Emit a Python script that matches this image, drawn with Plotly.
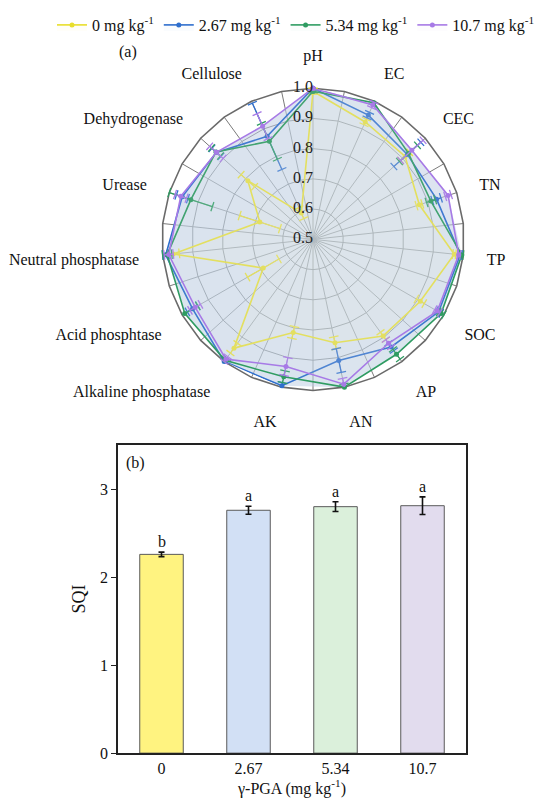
import plotly.graph_objects as go

# ---------------- data ----------------
axes_names = ["pH", "EC", "CEC", "TN", "TP", "SOC", "AP", "AN", "AK",
              "Alkaline phosphatase", "Acid phosphtase", "Neutral phosphatase",
              "Urease", "Dehydrogenase", "Cellulose"]

series_names = ["0 mg kg<sup>-1</sup>", "2.67 mg kg<sup>-1</sup>",
                "5.34 mg kg<sup>-1</sup>", "10.7 mg kg<sup>-1</sup>"]

v_0 = [0.99, 0.925, 0.91, 0.87, 0.97, 0.91, 0.895, 0.85, 0.815, 0.945, 0.69, 0.965, 0.685, 0.79, 0.595]
e_0 = [0.01, 0.01, 0.02, 0.01, 0.005, 0.015, 0.015, 0.02, 0.02, 0.02, 0.06, 0.02, 0.07, 0.03, 0.02]

v_267 = [1.0, 0.95, 0.92, 0.93, 0.99, 0.98, 0.94, 0.91, 0.995, 1.0, 0.96, 0.99, 0.955, 0.93, 0.873]
e_267 = [0.005, 0.01, 0.06, 0.015, 0.005, 0.01, 0.015, 0.04, 0.01, 0.01, 0.02, 0.01, 0.02, 0.02, 0.12]

v_534 = [0.99, 0.995, 0.925, 0.91, 0.995, 0.99, 0.97, 1.0, 0.965, 0.995, 0.99, 0.985, 0.925, 0.932, 0.855]
e_534 = [0.005, 0.01, 0.04, 0.015, 0.005, 0.01, 0.02, 0.01, 0.02, 0.01, 0.05, 0.015, 0.075, 0.02, 0.065]

v_107 = [1.0, 0.987, 0.94, 0.97, 0.985, 0.975, 0.925, 0.99, 0.93, 0.99, 0.95, 0.98, 0.96, 0.93, 0.91]
e_107 = [0.005, 0.01, 0.05, 0.01, 0.005, 0.01, 0.015, 0.02, 0.03, 0.01, 0.02, 0.015, 0.02, 0.03, 0.045]

radial_ticks = [0.5, 0.6, 0.7, 0.8, 0.9, 1.0]

bar_labels = ["0", "2.67", "5.34", "10.7"]
sqi = [2.258, 2.759, 2.80, 2.811]
sqi_err = [0.025, 0.045, 0.055, 0.10]
sig_letters = ["b", "a", "a", "a"]

# ---------------- styles / layout helpers ----------------
FONT = "Liberation Serif"
line_colors = ["#e8de2c", "#2f6fcd", "#2f9c62", "#a77ae6"]
fill_tints = ["rgba(255,248,190,0.10)", "rgba(210,226,250,0.10)",
              "rgba(210,240,222,0.10)", "rgba(236,222,250,0.10)"]
bar_colors = ["#fff380", "#d2e0f5", "#dbf0db", "#e2dcee"]

# the page adds an 8 px body margin; size the figure so it fits the window
OFF = 8
W, H = 550 - OFF, 806 - OFF


def fx(px):
    return (px - OFF) / W


def fy(py):
    return 1 - (py - OFF) / H


values = [v_0, v_267, v_534, v_107]
errors = [e_0, e_267, e_534, e_107]

R_MIN, R_MAX = radial_ticks[0], radial_ticks[-1]
# tiny pad so the centre label (r = 0.5) is not dropped as out of range
R_PAD = 1e-4

# background web: 30 spokes (the 15 attributes plus one between each)
web_cats = []
for i in range(len(axes_names)):
    web_cats += ["w%da" % i, "w%db" % i]


def bearing(name):
    return 360.0 * axes_names.index(name) / len(axes_names)


fig = go.Figure()

fig.add_trace(go.Scatterpolar(r=[None], theta=[web_cats[0]], subplot="polar",
                              showlegend=False, hoverinfo="skip"))

union_r = [max(v[i] for v in values) for i in range(len(axes_names))]
fig.add_trace(go.Scatterpolar(
    r=union_r + union_r[:1], theta=axes_names + axes_names[:1], subplot="polar2",
    mode="lines", line=dict(width=0), fill="toself",
    fillcolor="rgba(186,203,226,0.50)", showlegend=False, hoverinfo="skip"))

for k in range(4):
    v = values[k]
    e = errors[k]
    col = line_colors[k]
    er, et, ea = [], [], []
    for i, n in enumerate(axes_names):
        er += [v[i] - e[i], v[i] + e[i], None]
        et += [n, n, n]
        ea += [bearing(n), bearing(n), 0]
    fig.add_trace(go.Scatterpolar(
        r=er, theta=et, mode="lines+markers", subplot="polar2",
        line=dict(color=col, width=1.3),
        marker=dict(symbol="line-ew", size=7, angle=ea,
                    line=dict(color=col, width=1.3)),
        showlegend=False, hoverinfo="skip"))
    fig.add_trace(go.Scatterpolar(
        r=v + v[:1], theta=axes_names + axes_names[:1], subplot="polar2",
        mode="lines+markers", name=series_names[k],
        line=dict(color=col, width=1.6),
        marker=dict(size=5, color=col),
        fill="toself", fillcolor=fill_tints[k]))

# radial scale labels along the pH spoke
fig.add_trace(go.Scatterpolar(
    r=radial_ticks, theta=[axes_names[0]] * len(radial_ticks), subplot="polar2",
    mode="text", text=["%.1f" % t for t in radial_ticks],
    textposition="middle left", cliponaxis=False,
    textfont=dict(family=FONT, size=16, color="#222"),
    showlegend=False, hoverinfo="skip"))

fig.add_trace(go.Bar(
    x=bar_labels, y=sqi, width=0.5,
    marker=dict(color=bar_colors, line=dict(color="#5a5a5a", width=1)),
    error_y=dict(type="data", array=sqi_err, color="#111", thickness=1.6, width=3),
    showlegend=False, xaxis="x", yaxis="y"))

annotations = []
for i, (y, er, let) in enumerate(zip(sqi, sqi_err, sig_letters)):
    annotations.append(dict(x=i, y=y + er, xref="x", yref="y", text=let,
                            showarrow=False, yanchor="bottom", yshift=0,
                            font=dict(family=FONT, size=16, color="#111")))
annotations.append(dict(x=fx(128), y=fy(42), xref="paper", yref="paper",
                        xanchor="center", yanchor="middle",
                        text="(a)", showarrow=False,
                        font=dict(family=FONT, size=16, color="#111")))
annotations.append(dict(x=fx(135), y=fy(463), xref="paper", yref="paper",
                        xanchor="center", yanchor="middle",
                        text="(b)", showarrow=False,
                        font=dict(family=FONT, size=16, color="#111")))

polar_domain = dict(x=[fx(158), fx(468)], y=[fy(389), fy(79)])

fig.update_layout(
    width=W, height=H,
    margin=dict(l=0, r=0, t=0, b=0),
    paper_bgcolor="white", plot_bgcolor="white",
    font=dict(family=FONT, size=16, color="#111"),
    showlegend=True,
    legend=dict(orientation="h", x=fx(52), y=1 + 11.5 / H, xanchor="left", yanchor="top",
                font=dict(family=FONT, size=16, color="#111"),
                itemwidth=30, tracegroupgap=0, bgcolor="rgba(0,0,0,0)"),
    polar=dict(
        domain=polar_domain, bgcolor="white", gridshape="linear",
        radialaxis=dict(range=[R_MIN - R_PAD, R_MAX], tickvals=radial_ticks[1:-1],
                        showticklabels=False, showline=False, ticks="",
                        gridcolor="#6e6e6e", gridwidth=1.1),
        angularaxis=dict(type="category", categoryarray=web_cats,
                         direction="clockwise", rotation=90,
                         showticklabels=False, ticks="",
                         showline=True, linecolor="#6a6a6a", linewidth=1.6,
                         gridcolor="#7a7a7a", gridwidth=1.0),
    ),
    polar2=dict(
        domain=polar_domain, bgcolor="rgba(0,0,0,0)", gridshape="linear",
        radialaxis=dict(range=[R_MIN - R_PAD, R_MAX], showticklabels=False,
                        showline=False, showgrid=False, ticks=""),
        angularaxis=dict(type="category", categoryarray=axes_names,
                         direction="clockwise", rotation=90,
                         showline=False, showgrid=False,
                         ticks="outside", ticklen=20, tickcolor="rgba(0,0,0,0)",
                         tickfont=dict(family=FONT, size=16, color="#111")),
    ),
    xaxis=dict(domain=[fx(118), fx(466)], anchor="y", type="category",
               range=[-0.5, 3.5],
               showline=True, linecolor="#222", linewidth=1.5, mirror=True,
               ticks="", showgrid=False,
               tickfont=dict(family=FONT, size=16, color="#111"),
               title=dict(text="γ-PGA (mg kg<sup>-1</sup>)", standoff=2,
                          font=dict(family=FONT, size=16, color="#111"))),
    yaxis=dict(domain=[fy(761), fy(445)], anchor="x",
               range=[0, 3.5], tickvals=[0, 1, 2, 3],
               showline=True, linecolor="#222", linewidth=1.5, mirror=True,
               ticks="outside", ticklen=5, tickwidth=1.3, tickcolor="#222",
               showgrid=False, zeroline=False,
               tickfont=dict(family=FONT, size=16, color="#111"),
               title=dict(text="SQI", standoff=10,
                          font=dict(family=FONT, size=18, color="#111"))),
    annotations=annotations,
)

fig.write_html("out.html")
